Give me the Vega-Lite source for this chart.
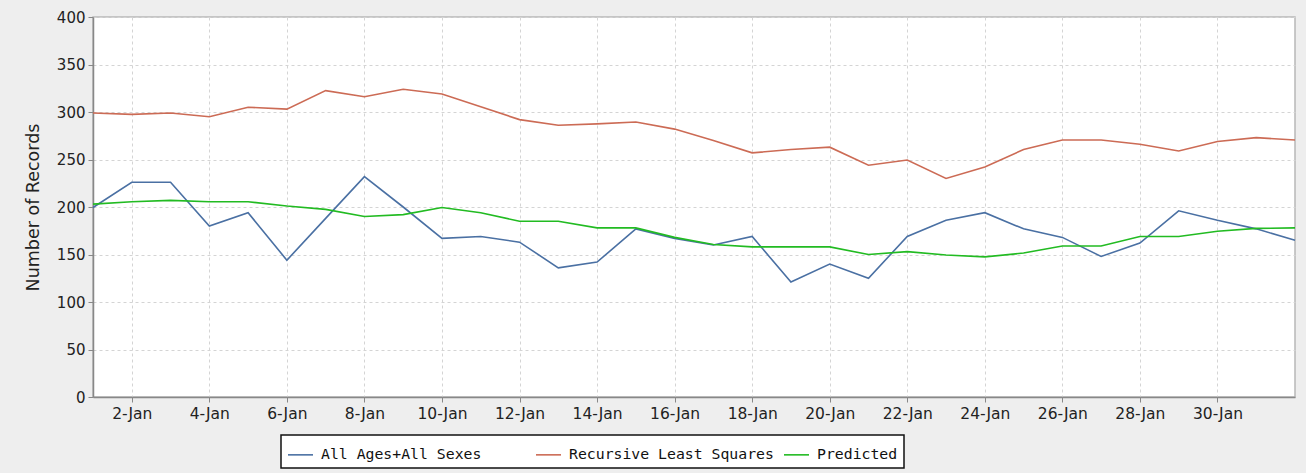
{
  "$schema": "https://vega.github.io/schema/vega-lite/v6.json",
  "width": 1202,
  "height": 380,
  "autosize": "none",
  "padding": {"left": 93, "top": 17, "right": 11, "bottom": 76},
  "background": "#eeeeee",
  "config": {
    "view": {"fill": "white", "stroke": "#b8b8b8", "strokeWidth": 1.5},
    "font": "DejaVu Sans",
    "axis": {
      "labelFont": "DejaVu Sans",
      "labelFontSize": 15,
      "labelColor": "#222222",
      "titleFont": "DejaVu Sans",
      "titleFontSize": 17.5,
      "titleFontWeight": "normal",
      "titleColor": "#222222",
      "domainColor": "#888888",
      "domainWidth": 1.5,
      "tickColor": "#888888",
      "tickSize": 5,
      "gridColor": "#d4d4d4",
      "gridDash": [3, 3],
      "gridWidth": 1
    },
    "legend": {
      "strokeColor": "#111111",
      "strokeWidth": 1.5,
      "fillColor": "white"
    }
  },
  "data": {
    "values": [
      {"date": "2013-01-01", "All Ages+All Sexes": 199.5, "Recursive Least Squares": 299, "Predicted": 203},
      {"date": "2013-01-02", "All Ages+All Sexes": 226, "Recursive Least Squares": 297.5, "Predicted": 205.5},
      {"date": "2013-01-03", "All Ages+All Sexes": 226, "Recursive Least Squares": 299, "Predicted": 207},
      {"date": "2013-01-04", "All Ages+All Sexes": 180, "Recursive Least Squares": 295, "Predicted": 205.5},
      {"date": "2013-01-05", "All Ages+All Sexes": 194, "Recursive Least Squares": 305, "Predicted": 205.5},
      {"date": "2013-01-06", "All Ages+All Sexes": 144, "Recursive Least Squares": 303, "Predicted": 201},
      {"date": "2013-01-07", "All Ages+All Sexes": 188, "Recursive Least Squares": 322.5, "Predicted": 197.5},
      {"date": "2013-01-08", "All Ages+All Sexes": 232, "Recursive Least Squares": 316, "Predicted": 190},
      {"date": "2013-01-09", "All Ages+All Sexes": 200, "Recursive Least Squares": 324, "Predicted": 192},
      {"date": "2013-01-10", "All Ages+All Sexes": 167, "Recursive Least Squares": 319, "Predicted": 199.5},
      {"date": "2013-01-11", "All Ages+All Sexes": 169, "Recursive Least Squares": 305.5, "Predicted": 194},
      {"date": "2013-01-12", "All Ages+All Sexes": 163, "Recursive Least Squares": 292, "Predicted": 185},
      {"date": "2013-01-13", "All Ages+All Sexes": 136, "Recursive Least Squares": 286, "Predicted": 185},
      {"date": "2013-01-14", "All Ages+All Sexes": 142, "Recursive Least Squares": 287.5, "Predicted": 178},
      {"date": "2013-01-15", "All Ages+All Sexes": 177, "Recursive Least Squares": 289.5, "Predicted": 178},
      {"date": "2013-01-16", "All Ages+All Sexes": 167, "Recursive Least Squares": 282, "Predicted": 168},
      {"date": "2013-01-17", "All Ages+All Sexes": 160, "Recursive Least Squares": 270, "Predicted": 160.5},
      {"date": "2013-01-18", "All Ages+All Sexes": 169, "Recursive Least Squares": 257, "Predicted": 158},
      {"date": "2013-01-19", "All Ages+All Sexes": 121, "Recursive Least Squares": 260.5, "Predicted": 158},
      {"date": "2013-01-20", "All Ages+All Sexes": 140, "Recursive Least Squares": 263, "Predicted": 158},
      {"date": "2013-01-21", "All Ages+All Sexes": 125, "Recursive Least Squares": 244, "Predicted": 150},
      {"date": "2013-01-22", "All Ages+All Sexes": 169, "Recursive Least Squares": 249.5, "Predicted": 153},
      {"date": "2013-01-23", "All Ages+All Sexes": 186, "Recursive Least Squares": 230, "Predicted": 149.5},
      {"date": "2013-01-24", "All Ages+All Sexes": 194, "Recursive Least Squares": 242, "Predicted": 147.5},
      {"date": "2013-01-25", "All Ages+All Sexes": 177, "Recursive Least Squares": 260.5, "Predicted": 151.5},
      {"date": "2013-01-26", "All Ages+All Sexes": 168, "Recursive Least Squares": 270.5, "Predicted": 159},
      {"date": "2013-01-27", "All Ages+All Sexes": 148, "Recursive Least Squares": 270.5, "Predicted": 159},
      {"date": "2013-01-28", "All Ages+All Sexes": 162, "Recursive Least Squares": 266, "Predicted": 169},
      {"date": "2013-01-29", "All Ages+All Sexes": 196, "Recursive Least Squares": 259, "Predicted": 169},
      {"date": "2013-01-30", "All Ages+All Sexes": 186, "Recursive Least Squares": 269, "Predicted": 174.5},
      {"date": "2013-01-31", "All Ages+All Sexes": 177, "Recursive Least Squares": 273, "Predicted": 177.5},
      {"date": "2013-02-01", "All Ages+All Sexes": 165, "Recursive Least Squares": 270.5, "Predicted": 178}
    ]
  },
  "transform": [
    {"fold": ["All Ages+All Sexes", "Recursive Least Squares", "Predicted"], "as": ["series", "value"]}
  ],
  "mark": {"type": "line", "strokeWidth": 1.6},
  "encoding": {
    "x": {
      "field": "date",
      "type": "temporal",
      "scale": {
        "type": "utc",
        "nice": false,
        "domain": [
          {"year": 2013, "month": 1, "date": 1, "utc": true},
          {"year": 2013, "month": 2, "date": 1, "utc": true}
        ]
      },
      "axis": {
        "title": null,
        "format": "%-d-%b",
        "labelPadding": 4,
        "labelFontSize": 15.5,
        "values": [
          {"year": 2013, "month": 1, "date": 2, "utc": true},
          {"year": 2013, "month": 1, "date": 4, "utc": true},
          {"year": 2013, "month": 1, "date": 6, "utc": true},
          {"year": 2013, "month": 1, "date": 8, "utc": true},
          {"year": 2013, "month": 1, "date": 10, "utc": true},
          {"year": 2013, "month": 1, "date": 12, "utc": true},
          {"year": 2013, "month": 1, "date": 14, "utc": true},
          {"year": 2013, "month": 1, "date": 16, "utc": true},
          {"year": 2013, "month": 1, "date": 18, "utc": true},
          {"year": 2013, "month": 1, "date": 20, "utc": true},
          {"year": 2013, "month": 1, "date": 22, "utc": true},
          {"year": 2013, "month": 1, "date": 24, "utc": true},
          {"year": 2013, "month": 1, "date": 26, "utc": true},
          {"year": 2013, "month": 1, "date": 28, "utc": true},
          {"year": 2013, "month": 1, "date": 30, "utc": true}
        ]
      }
    },
    "y": {
      "field": "value",
      "type": "quantitative",
      "scale": {"domain": [0, 400], "nice": false},
      "axis": {
        "title": "Number of Records",
        "values": [0, 50, 100, 150, 200, 250, 300, 350, 400],
        "labelPadding": 3,
        "titlePadding": 14
      }
    },
    "color": {
      "field": "series",
      "type": "nominal",
      "scale": {
        "domain": ["All Ages+All Sexes", "Recursive Least Squares", "Predicted"],
        "range": ["#4a70a3", "#cc6b55", "#22bb22"]
      },
      "legend": {
        "title": null,
        "orient": "none",
        "legendX": 188,
        "legendY": 418,
        "direction": "horizontal",
        "gridAlign": "all",
        "columnPadding": 6,
        "padding": 6,
        "symbolType": "stroke",
        "symbolSize": 625,
        "symbolStrokeWidth": 1.6,
        "labelFont": "DejaVu Sans Mono",
        "labelFontSize": 14.8,
        "labelColor": "#111111",
        "labelOffset": 7,
        "labelLimit": 400,
        "encode": {
          "entries": {"update": {"width": {"value": 240}}}
        }
      }
    }
  }
}
